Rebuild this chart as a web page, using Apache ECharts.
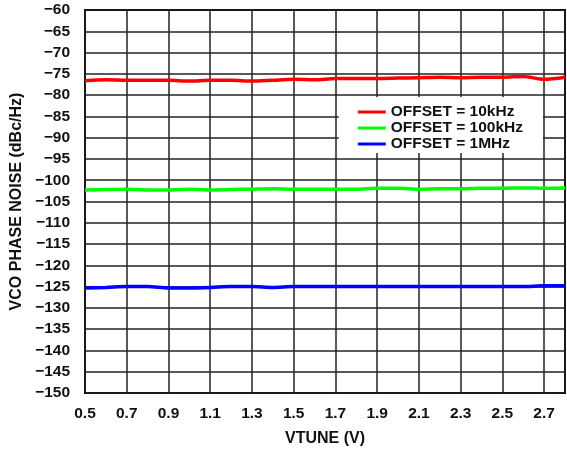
<!DOCTYPE html>
<html><head><meta charset="utf-8">
<script src="https://cdn.jsdelivr.net/npm/echarts@6/dist/echarts.min.js"></script>
<style>html,body{margin:0;padding:0;background:#fff}#c{width:567px;height:452px}</style>
</head><body><div id="c"></div>
<script>
const vtune = [0.5,0.6,0.7,0.8,0.9,1.0,1.1,1.2,1.3,1.4,1.5,1.6,1.7,1.8,1.9,2.0,2.1,2.2,2.3,2.4,2.5,2.6,2.7,2.8];
const off10k = [-76.6,-76.4,-76.5,-76.5,-76.5,-76.7,-76.5,-76.5,-76.7,-76.5,-76.3,-76.4,-76.1,-76.1,-76.1,-76.0,-75.9,-75.8,-75.9,-75.8,-75.8,-75.6,-76.3,-75.8];
const off100k = [-102.3,-102.2,-102.1,-102.3,-102.3,-102.1,-102.3,-102.2,-102.1,-102.0,-102.1,-102.1,-102.1,-102.1,-101.9,-101.9,-102.1,-102.0,-102.0,-101.9,-101.9,-101.8,-101.9,-101.8];
const off1M = [-125.3,-125.2,-125.0,-125.0,-125.3,-125.3,-125.2,-125.0,-125.0,-125.2,-125.0,-125.0,-125.0,-125.0,-125.0,-125.0,-125.0,-125.0,-125.0,-125.0,-125.0,-125.0,-124.8,-124.8];
const seriesNames = ['OFFSET = 10kHz','OFFSET = 100kHz','OFFSET = 1MHz'];
const colors = ['#ff0000','#00ff00','#0000ff'];
const pair = ys => vtune.map((x,i)=>[x,ys[i]]);
const font = 'Liberation Sans, Arial, sans-serif';
const chart = echarts.init(document.getElementById('c'));
chart.setOption({
  animation:false,
  grid:{left:85,right:2,top:10,bottom:59,show:true,borderColor:'#000',borderWidth:2},
  legend:{
    right:24, top:97, orient:'vertical', backgroundColor:'#fff', padding:[7,20,1,19],
    itemWidth:28, itemHeight:3, itemGap:0, icon:'rect',
    textStyle:{fontFamily:font,fontWeight:'bold',fontSize:15.5,color:'#111'},
    data:seriesNames
  },
  xAxis:{
    type:'value', min:0.5, max:2.8, interval:0.2,
    name:'VTUNE (V)', nameLocation:'middle', nameGap:38,
    nameTextStyle:{fontFamily:font,fontWeight:'bold',fontSize:16,color:'#111'},
    axisLine:{show:false}, axisTick:{show:false},
    axisLabel:{fontFamily:font,fontWeight:'bold',fontSize:15.5,color:'#111',margin:13,showMaxLabel:false,
      formatter:v=>v.toFixed(1)},
    splitLine:{show:true,lineStyle:{color:'#222',width:1.5}}
  },
  yAxis:{
    type:'value', min:-150, max:-60, interval:5,
    name:'VCO PHASE NOISE (dBc/Hz)', nameLocation:'middle', nameGap:59, nameRotate:90,
    nameTextStyle:{fontFamily:font,fontWeight:'bold',fontSize:16,color:'#111'},
    axisLine:{show:false}, axisTick:{show:false},
    axisLabel:{fontFamily:font,fontWeight:'bold',fontSize:15.5,color:'#111',margin:15,
      formatter:v=>String(v).replace('-','\u2212')},
    splitLine:{show:true,lineStyle:{color:'#222',width:1.5}}
  },
  series:[off10k,off100k,off1M].map((d,i)=>({
    name:seriesNames[i], type:'line', data:pair(d), smooth:0.3, showSymbol:false,
    lineStyle:{color:colors[i],width:3.5}, itemStyle:{color:colors[i]}, z:3
  }))
});
</script></body></html>
